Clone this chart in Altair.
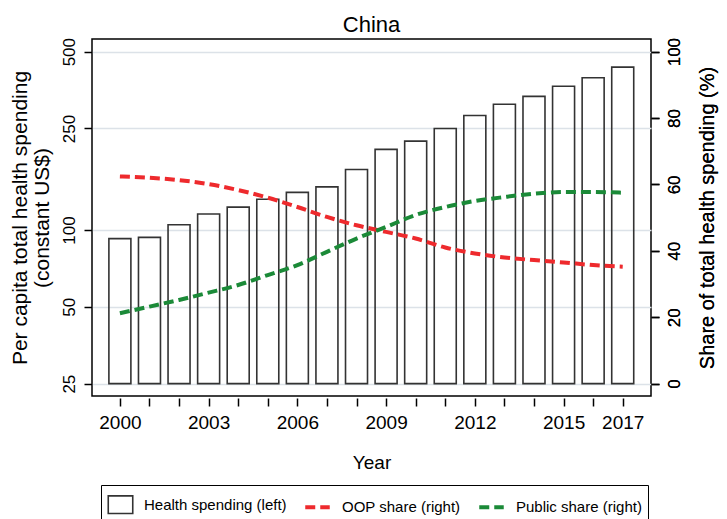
import altair as alt
import pandas as pd

years = [2000, 2001, 2002, 2003, 2004, 2005, 2006, 2007, 2008,
         2009, 2010, 2011, 2012, 2013, 2014, 2015, 2016, 2017]
spending = [92.5, 93.6, 104.9, 115.5, 123, 132, 140.4, 147.6, 172.7,
            207, 223, 250, 281, 311, 334, 366, 395, 435]
oop_share = [62.4, 62.0, 61.3, 60.1, 58.3, 56.0, 53.2, 50.2, 47.7,
             45.7, 43.7, 41.0, 39.2, 38.0, 37.2, 36.5, 35.7, 35.2]
public_share = [21.2, 23.2, 25.2, 27.4, 29.7, 32.7, 35.7, 39.7, 43.7,
                47.2, 50.8, 53.2, 55.0, 56.2, 57.2, 57.7, 57.7, 57.5]
year_labels = [2000, 2003, 2006, 2009, 2012, 2015, 2017]
left_ticks = [25, 50, 100, 250, 500]
right_ticks = [0, 20, 40, 60, 80, 100]
series_names = ["Health spending (left)", "OOP share (right)", "Public share (right)"]
series_colors = ["#333333", "#EE2A2D", "#1B8A38"]
series_dashes = [[1, 0], [10, 5], [10, 5]]
series_shapes = ["M-1,-0.72H1V0.72H-1Z", "stroke", "stroke"]
series_widths = [1.6, 4, 4]

FONT = "Liberation Sans"

bars_df = pd.DataFrame({"year": years, "spending": spending})
lines_df = pd.concat([
    pd.DataFrame({"year": years, "share": oop_share, "series": series_names[1]}),
    pd.DataFrame({"year": years, "share": public_share, "series": series_names[2]}),
])

label_expr = "indexof([" + ",".join(str(y) for y in year_labels) + "], datum.value) >= 0 ? datum.label : ''"

x_enc = alt.X(
    "year:Q",
    scale=alt.Scale(domain=[1999.226, 2017.787], nice=False, zero=False),
    axis=alt.Axis(values=years, labelExpr=label_expr, format="d", title="Year",
                  offset=2, tickSize=8, labelPadding=7, labelFontSize=19,
                  titleFontSize=19, titlePadding=21, labelFlush=False,
                  labelOverlap=False, grid=False),
)

bars = alt.Chart(bars_df).mark_bar(
    size=22, fillOpacity=0, stroke="#333333", strokeWidth=1.6
).encode(
    x=x_enc,
    y=alt.Y("spending:Q",
            scale=alt.Scale(type="log", domain=[22.36, 560.6], nice=False),
            axis=alt.Axis(orient="left", values=left_ticks, grid=True,
                          gridColor="#DCE2E8", gridWidth=1.5,
                          title=["Per capita total health spending", "(constant US$)"],
                          labelAngle=270, labelFontSize=17, tickSize=8,
                          labelPadding=6, titleFontSize=21, titlePadding=8,
                          titleLineHeight=22)),
    y2=alt.datum(25),
)

y_right = alt.Y("share:Q",
                scale=alt.Scale(domain=[-3.73, 103.8], nice=False, zero=False),
                axis=alt.Axis(orient="right", values=right_ticks, grid=False,
                              title="Share of total health spending (%)",
                              labelAngle=270, labelAlign="center", labelBaseline="top",
                              labelFontSize=17, tickSize=8, labelPadding=7,
                              titleFontSize=20, titleAngle=270,
                              titleX=56, titleY=178.5, titleAlign="center",
                              titleBaseline="middle"))
color_enc = alt.Color("series:N",
                      scale=alt.Scale(domain=series_names, range=series_colors),
                      title=None)

lines = alt.Chart(lines_df).mark_line(
    interpolate="monotone"
).encode(
    x=x_enc,
    y=y_right,
    color=color_enc,
    strokeDash=alt.StrokeDash("series:N",
                              scale=alt.Scale(domain=series_names, range=series_dashes),
                              title=None),
    strokeWidth=alt.StrokeWidth("series:N",
                                scale=alt.Scale(type="ordinal", domain=series_names,
                                                range=series_widths),
                                title=None),
)

shapes = alt.Chart(lines_df).transform_filter("false").mark_point(filled=False).encode(
    x=x_enc,
    y=y_right,
    color=color_enc,
    shape=alt.Shape("series:N",
                    scale=alt.Scale(domain=series_names, range=series_shapes),
                    title=None),
)

chart = alt.layer(bars, lines, shapes).resolve_scale(y="independent").properties(
    width=559, height=357,
    autosize=alt.AutoSizeParams(type="none"),
    padding={"left": 84, "top": 31, "right": 68, "bottom": 128},
    title=alt.Title("China", fontSize=22, font=FONT, fontWeight="normal",
                    color="black", offset=0),
).configure_view(
    stroke="black", strokeWidth=1.5
).configure_axis(
    domain=False, grid=False, tickColor="black", tickWidth=1.5,
    labelFont=FONT, titleFont=FONT, labelColor="black", titleColor="black",
    titleFontWeight="normal",
).configure_legend(
    orient="none", legendX=9, legendY=446, direction="horizontal",
    symbolSize=600, labelFontSize=15, labelFont=FONT, labelColor="black",
    labelOffset=10, columnPadding=10, padding=6, strokeColor="black",
    labelLimit=300, symbolOpacity=1,
)

chart.save("out.html", embed_options={"renderer": "svg", "actions": False})
